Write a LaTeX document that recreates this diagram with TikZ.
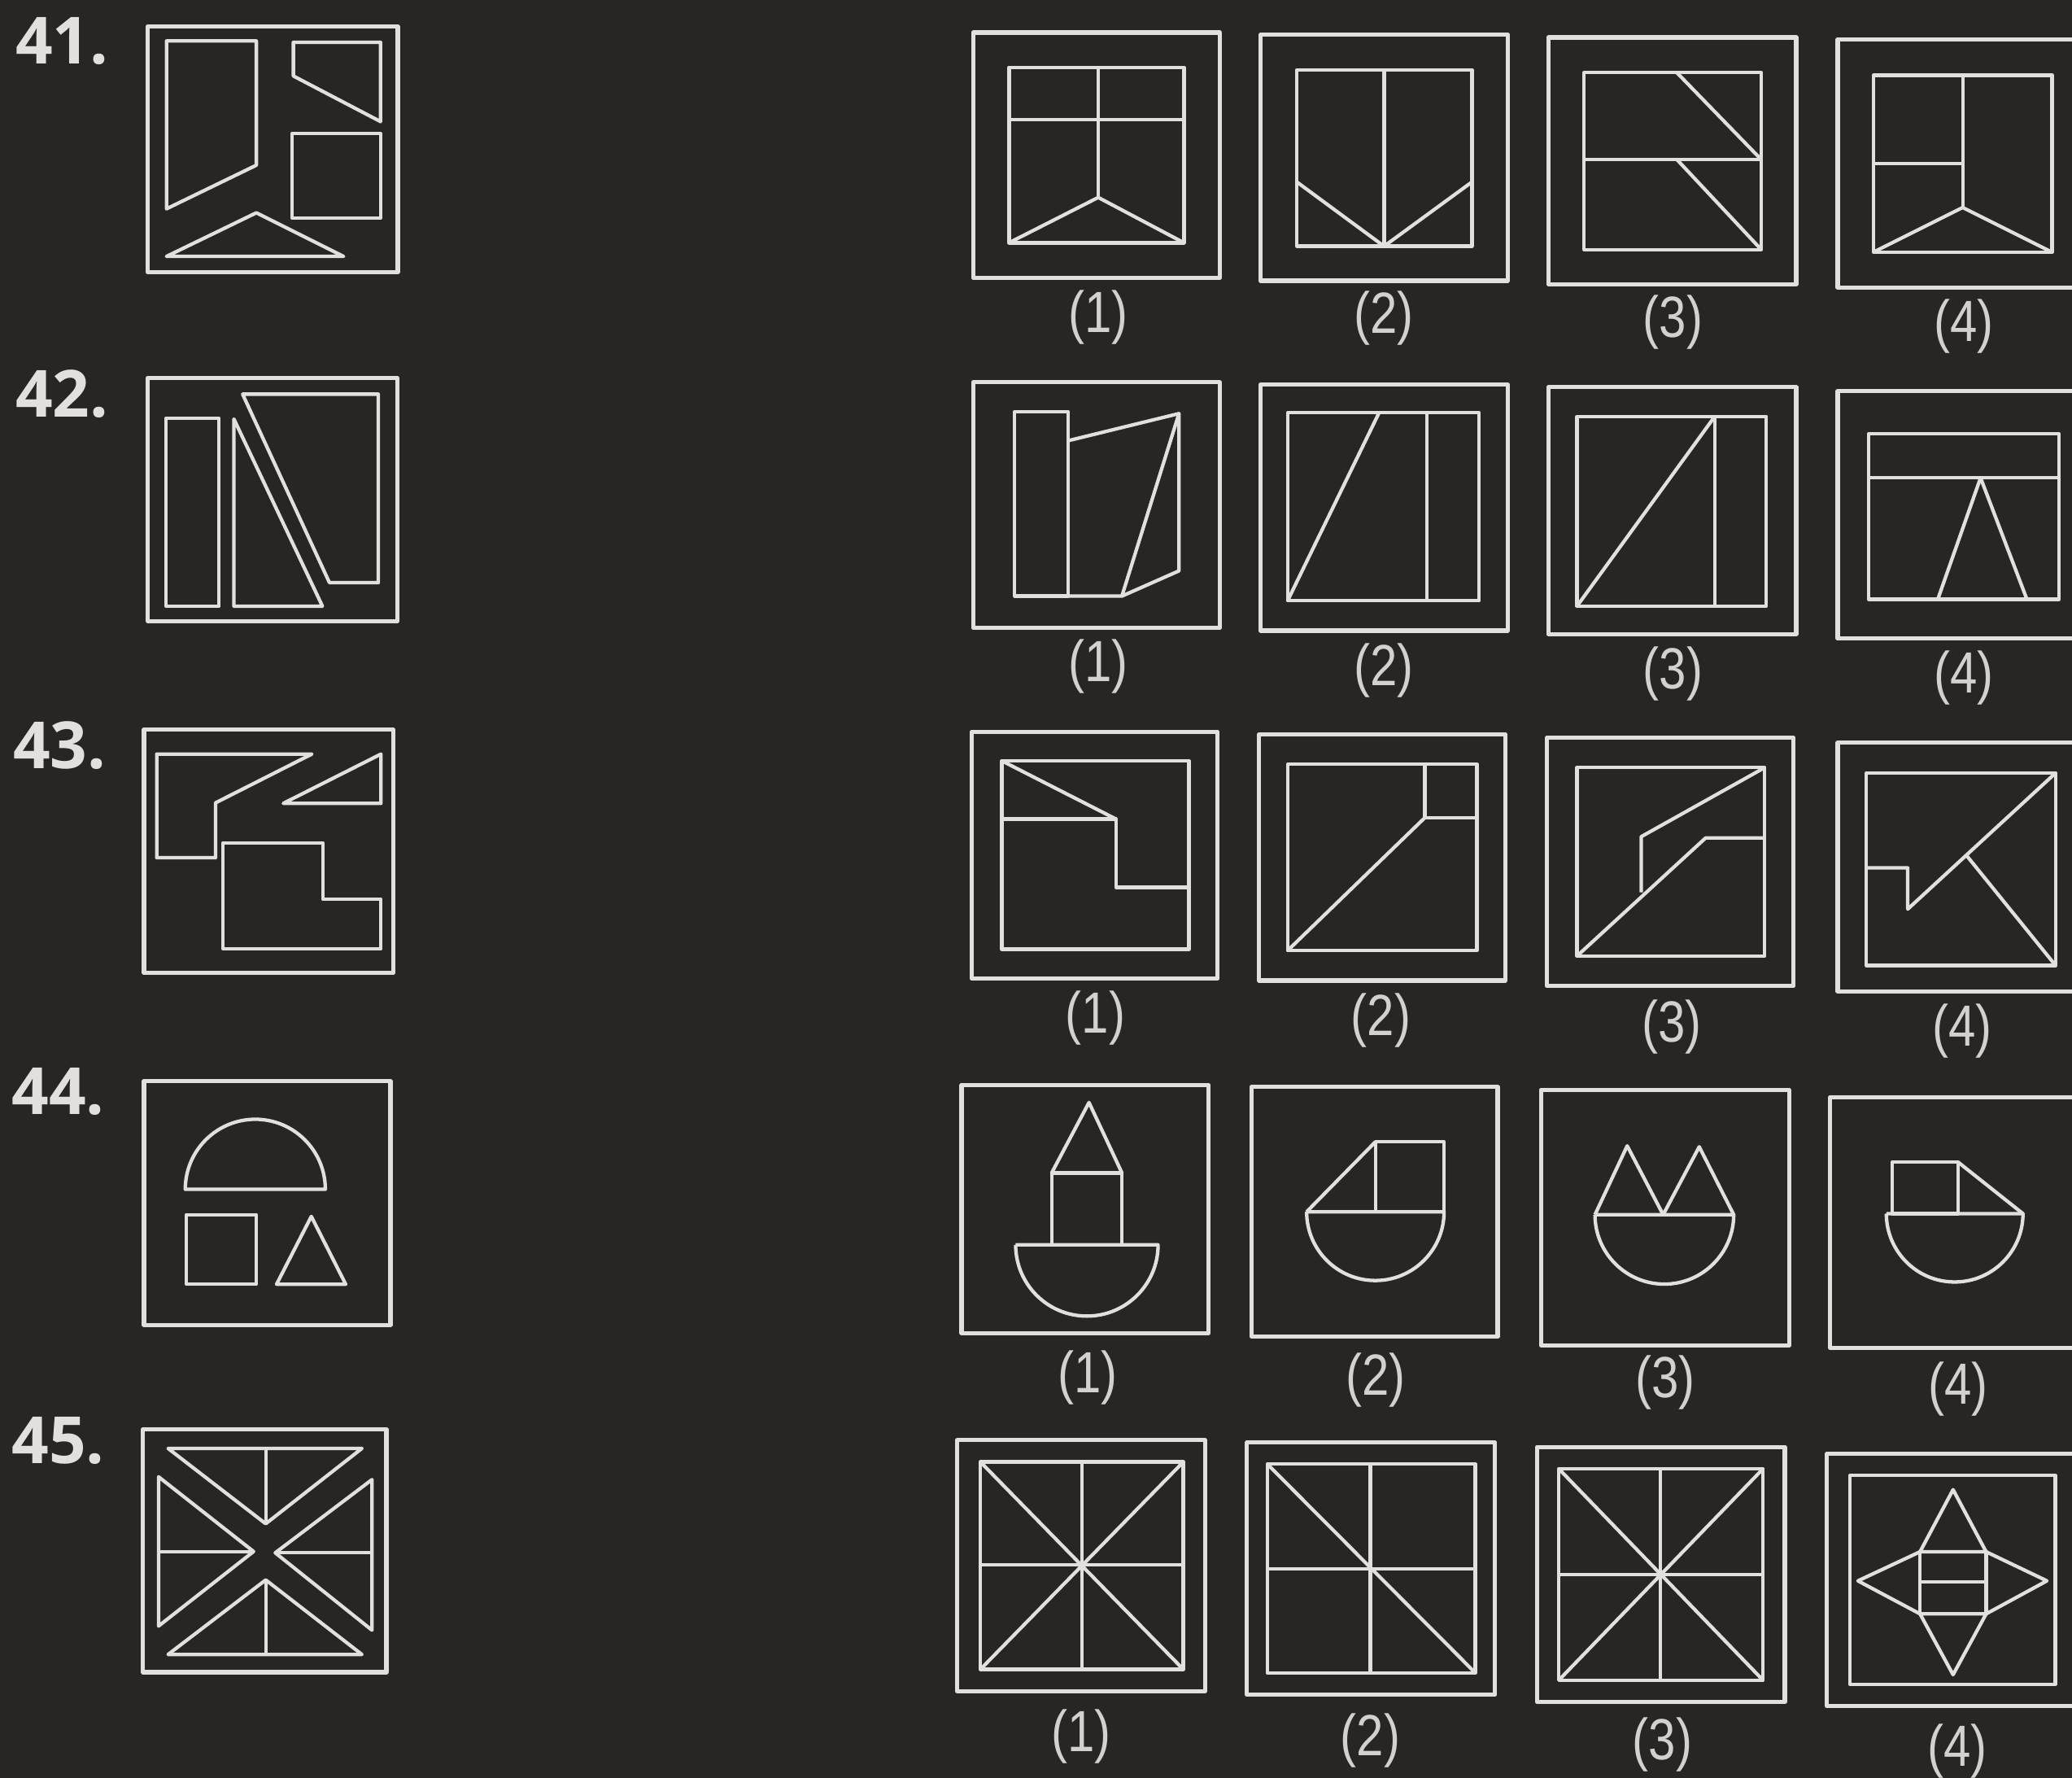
\documentclass[tikz,border=0pt]{standalone}
\usepackage{fontspec}
\setsansfont{Liberation Sans}
\newfontfamily\numfont{Open Sans}
\usepackage{xcolor}
\usepackage{graphicx}
\usepackage{tikz}

\definecolor{board}{RGB}{41,37,35}
\definecolor{chalk}{RGB}{226,224,220}

\begin{document}
\begin{tikzpicture}[
    x=0.1mm, y=-0.1mm, line join=round,
    frame/.style={draw=chalk, line width=0.9pt},
    part/.style={draw=chalk, line width=0.75pt},
    qnum/.style={text=chalk, inner sep=0pt, font=\numfont\bfseries\fontsize{14}{14}\selectfont},
    optnum/.style={text=chalk!92!board, inner sep=0pt, font=\sffamily\fontsize{12.5}{12.5}\selectfont}
  ]
    \fill[board] (0,0) rectangle (1568,1345);
    \useasboundingbox (0,0) rectangle (1568,1345);
    \clip (0,0) rectangle (1568,1345);

    % question numbers
    \node[qnum] (n41) at (47,31)   {41.};
    \node[qnum] (n42) at (47,298)  {42.};
    \node[qnum] (n43) at (45,564)  {43.};
    \node[qnum] (n44) at (44,826)  {44.};
    \node[qnum] (n45) at (44,1090) {45.};

    % answer labels
    \foreach \r/\k/\x/\y in {41/1/831/240, 41/2/1047/241, 41/3/1266/244, 41/4/1486/247,
                             42/1/831/504, 42/2/1047/507, 42/3/1266/510, 42/4/1486/513,
                             43/1/829/770, 43/2/1045/772, 43/3/1265/777, 43/4/1485/780,
                             44/1/823/1042, 44/2/1041/1044, 44/3/1260/1046, 44/4/1482/1051,
                             45/1/818/1314, 45/2/1037/1317, 45/3/1258/1320, 45/4/1481/1325}
      \node[optnum] (o\r-\k) at (\x,\y) {\scalebox{0.84}[1]{(\k)}};

    % 41 question
    \draw[frame] (112,20) rectangle (301,206);
    \draw[part] (126,31) -- (194,31) -- (194,125) -- (126,158) -- cycle;
    \draw[part] (222,32) -- (288,32) -- (288,92) -- (222,57.5) -- cycle;
    \draw[part] (221,101) rectangle (288,165);
    \draw[part] (126,194) -- (260,194) -- (194,161) -- cycle;
    % 41 answers
    \draw[frame] (736.5,24.6) rectangle (923,210.3);
    \draw[part] (763.6,50.9) rectangle (896,183.7);
    \draw[part] (763.6,90.3) -- (896,90.3);
    \draw[part] (831.1,50.9) -- (831.1,149.4);
    \draw[part] (763.6,183.7) -- (831.1,149.4) -- (896,183.7);
    \draw[frame] (953.9,26.3) rectangle (1140.9,212.4);
    \draw[part] (981.4,52.9) rectangle (1113.9,186.3);
    \draw[part] (1047.4,52.9) -- (1047.4,186.3);
    \draw[part] (981.4,137.7) -- (1047.4,186.3) -- (1113.9,137.7);
    \draw[frame] (1171.7,28.3) rectangle (1359.3,215);
    \draw[part] (1198.8,55) rectangle (1332.8,188.8);
    \draw[part] (1198.8,120.7) -- (1332.8,120.7);
    \draw[part] (1269,55) -- (1332.8,120.7);
    \draw[part] (1269,120.7) -- (1332.8,188.8);
    \draw[frame] (1390.7,29.7) rectangle (1580,217.5);
    \draw[part] (1417.7,57) rectangle (1552.9,190.8);
    \draw[part] (1417.7,123.7) -- (1485.3,123.7);
    \draw[part] (1485.3,57) -- (1485.3,157);
    \draw[part] (1417.7,190.8) -- (1485.3,157) -- (1552.9,190.8);

    % 42 question
    \draw[frame] (112,286) rectangle (300.5,470);
    \draw[part] (125.6,316.4) rectangle (165.8,458.6);
    \draw[part] (177,317) -- (177,458.6) -- (244,458.6) -- cycle;
    \draw[part] (183.6,298.2) -- (286.3,298.2) -- (286.3,440.8) -- (249.3,440.8) -- cycle;
    % 42 answers
    \draw[frame] (736.5,289.3) rectangle (923,475);
    \draw[part] (767.9,311.5) rectangle (808.4,451);
    \draw[part] (808.4,333.4) -- (892.2,312.9) -- (892.2,431.9) -- (849,451) -- (808.4,451);
    \draw[part] (892.2,312.9) -- (849,451);
    \draw[frame] (953.9,291) rectangle (1140.9,477.1);
    \draw[part] (974.4,312.3) rectangle (1119.3,454.5);
    \draw[part] (1079.8,312.3) -- (1079.8,454.5);
    \draw[part] (1043.6,312.3) -- (974.4,454.5);
    \draw[frame] (1171.7,293) rectangle (1359.3,479.7);
    \draw[part] (1193.4,315) rectangle (1336.6,458.6);
    \draw[part] (1297.7,315) -- (1297.7,458.6);
    \draw[part] (1297.7,315) -- (1193.4,458.6);
    \draw[frame] (1390.7,295.9) rectangle (1580,483.2);
    \draw[part] (1414,328.3) rectangle (1558.3,453.5);
    \draw[part] (1414,361.5) -- (1558.3,361.5);
    \draw[part] (1466.4,453.5) -- (1498.8,361.5) -- (1533.9,453.5);

    % 43 question
    \draw[frame] (109,552) rectangle (297.5,736);
    \draw[part] (118.6,570.5) -- (236,570.5) -- (163.1,607.4) -- (163.1,648.9) -- (118.6,648.9) -- cycle;
    \draw[part] (288.3,570.5) -- (288.3,607.8) -- (214.4,607.8) -- cycle;
    \draw[part] (168.7,637.6) -- (244.2,637.6) -- (244.2,680.3) -- (288.3,680.3) -- (288.3,717.8) -- (168.7,717.8) -- cycle;
    % 43 answers
    \draw[frame] (735.4,553.6) rectangle (921.4,740.4);
    \draw[part] (758.1,575.6) rectangle (899.8,718.2);
    \draw[part] (758.1,575.6) -- (844.6,619.7);
    \draw[part] (758.1,619.7) -- (844.6,619.7) -- (844.6,671.4) -- (899.8,671.4);
    \draw[frame] (952.8,555.7) rectangle (1139.3,741.8);
    \draw[part] (974.4,578.2) rectangle (1117.7,719.2);
    \draw[part] (1078.2,578.2) -- (1078.2,618.7) -- (1117.7,618.7);
    \draw[part] (1078.2,618.7) -- (974.4,719.2);
    \draw[frame] (1170.6,558.1) rectangle (1357.2,745.9);
    \draw[part] (1193.4,580.7) rectangle (1335.5,723.3);
    \draw[part] (1335.5,580.7) -- (1242,633) -- (1242,675.1);
    \draw[part] (1335.5,634) -- (1290.7,634) -- (1193.4,723.3);
    \draw[frame] (1390.7,561.8) rectangle (1580,750);
    \draw[part] (1412.3,584.8) rectangle (1555.6,730.5);
    \draw[part] (1412.3,656.6) -- (1443.7,656.6) -- (1443.7,687.8) -- (1555.6,584.8);
    \draw[part] (1488,647) -- (1555.6,730.5);

    % 44 question
    \draw[frame] (109,818) rectangle (295.5,1002.4);
    \draw[part] (140.2,899.8) arc[start angle=180, end angle=360, radius=53] -- cycle;
    \draw[part] (141,919) rectangle (194,971.6);
    \draw[part] (235.6,920.3) -- (209.3,971.6) -- (261.6,971.6) -- cycle;
    % 44 answers
    \draw[frame] (727.7,820.8) rectangle (914.5,1008.5);
    \draw[part] (795.8,887.5) -- (824.1,834.1) -- (849.1,887.5);
    \draw[part] (795.8,887.5) rectangle (849.1,941.8);
    \draw[part] (768.6,941.8) -- (876.4,941.8) arc[start angle=0, end angle=180, radius=53.9];
    \draw[frame] (947.2,822.4) rectangle (1133.4,1011.2);
    \draw[part] (1040.8,863.9) rectangle (1092.8,916.8);
    \draw[part] (1040.8,863.9) -- (988.8,916.8);
    \draw[part] (988.8,916.8) -- (1092.8,916.8) arc[start angle=0, end angle=180, radius=52];
    \draw[frame] (1166.1,824.5) rectangle (1353.9,1017.8);
    \draw[part] (1207,919) -- (1231.4,866.9) -- (1258.6,919) -- (1285.9,867.6) -- (1312,919);
    \draw[part] (1207,919) -- (1312,919) arc[start angle=0, end angle=180, radius=52.5];
    \draw[frame] (1385,830) rectangle (1580,1019.8);
    \draw[part] (1431.8,879.3) rectangle (1481.9,918.2);
    \draw[part] (1481.9,879.3) -- (1530.9,918.2);
    \draw[part] (1427.5,918.2) -- (1530.9,918.2) arc[start angle=0, end angle=180, radius=51.7];

    % 45 question
    \draw[frame] (108.3,1081.4) rectangle (292.4,1265.1);
    \draw[part] (127.2,1095.8) -- (273.9,1095.8) -- (201.1,1152.8) -- cycle;
    \draw[part] (201.1,1095.8) -- (201.1,1152.8);
    \draw[part] (120,1117.3) -- (191.9,1173.8) -- (120,1230.2) -- cycle;
    \draw[part] (120,1173.8) -- (191.9,1173.8);
    \draw[part] (281.5,1119.4) -- (208.3,1174.8) -- (281.5,1233.3) -- cycle;
    \draw[part] (208.3,1174.8) -- (281.5,1174.8);
    \draw[part] (127.2,1251.7) -- (273.9,1251.7) -- (201.1,1195.3) -- cycle;
    \draw[part] (201.1,1195.3) -- (201.1,1251.7);
    % 45 answers
    \draw[frame] (724.4,1089.6) rectangle (911.9,1279.4);
    \draw[part] (741.9,1106) rectangle (895.5,1263);
    \draw[part] (818.7,1106) -- (818.7,1263);
    \draw[part] (741.9,1184) -- (895.5,1184);
    \draw[part] (741.9,1106) -- (895.5,1263);
    \draw[part] (895.5,1106) -- (741.9,1263);
    \draw[frame] (943.7,1091.3) rectangle (1131.3,1282.1);
    \draw[part] (959.1,1107.7) rectangle (1116.5,1265.7);
    \draw[part] (1037,1107.7) -- (1037,1265.7);
    \draw[part] (959.1,1187.1) -- (1116.5,1187.1);
    \draw[part] (959.1,1107.7) -- (1116.5,1265.7);
    \draw[frame] (1163.1,1094.7) rectangle (1350.7,1287.6);
    \draw[part] (1179.6,1111.2) rectangle (1334.2,1271.2);
    \draw[part] (1256.3,1111.2) -- (1256.3,1271.2);
    \draw[part] (1179.6,1191.2) -- (1334.2,1191.2);
    \draw[part] (1179.6,1111.2) -- (1334.2,1271.2);
    \draw[part] (1334.2,1111.2) -- (1179.6,1271.2);
    \draw[frame] (1382.5,1099.9) rectangle (1580,1290.7);
    \draw[part] (1400.1,1116.3) rectangle (1555.3,1274.3);
    \draw[part] (1453,1174) -- (1478,1127) -- (1503,1174) -- cycle;
    \draw[part] (1453,1221) -- (1478,1267) -- (1503,1221) -- cycle;
    \draw[part] (1453,1174) -- (1406,1196) -- (1453,1221);
    \draw[part] (1503,1174) -- (1549,1196) -- (1503,1221);
    \draw[part] (1453,1174) -- (1453,1221);
    \draw[part] (1503,1174) -- (1503,1221);
    \draw[part] (1453,1197) -- (1503,1197);

  \end{tikzpicture}
\end{document}
